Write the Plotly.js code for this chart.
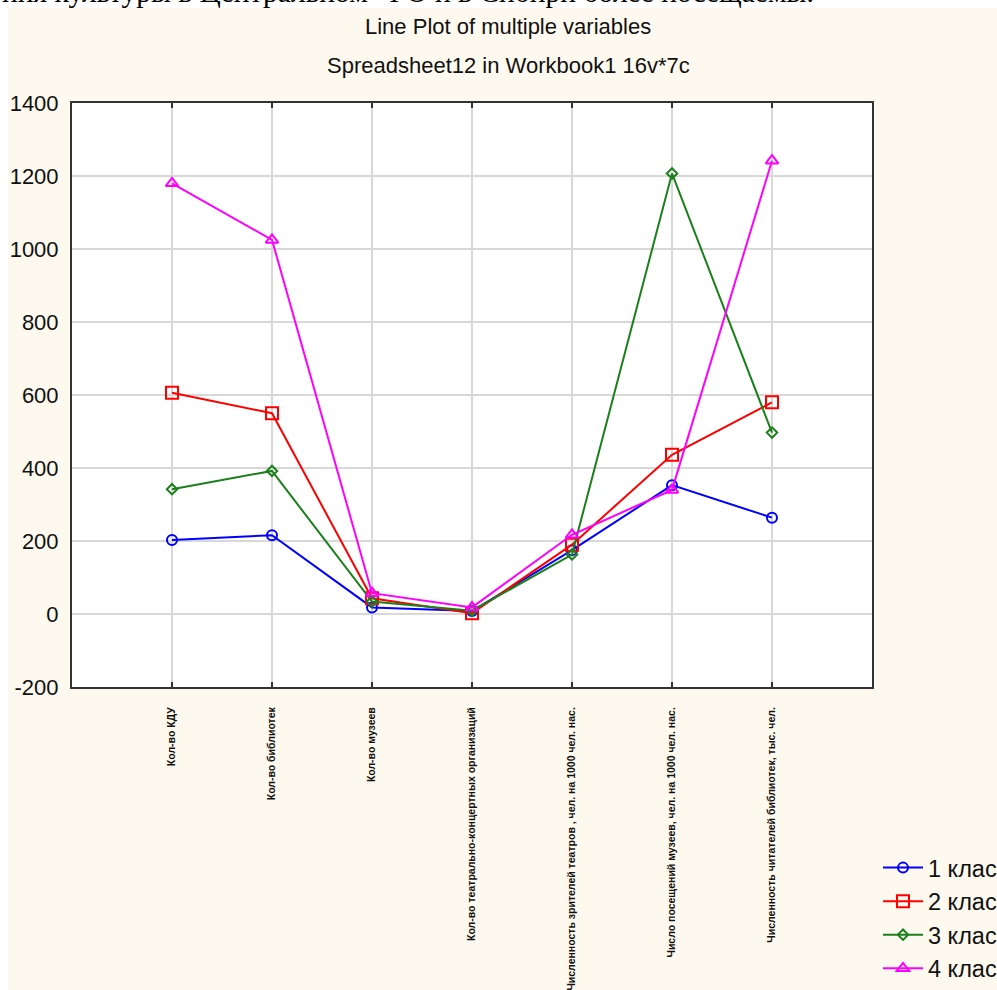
<!DOCTYPE html>
<html>
<head>
<meta charset="utf-8">
<script src="https://cdn.plot.ly/plotly-3.0.1.min.js"></script>
<style>html,body{margin:0;padding:0;background:#fdf9ee;}#chart{width:997px;height:990px;}</style>
</head>
<body>
<div id="chart"></div>
<script>
const categories = [
  "Кол-во КДУ",
  "Кол-во библиотек",
  "Кол-во музеев",
  "Кол-во театрально-концертных организаций",
  "Численность зрителей театров , чел. на 1000 чел. нас.",
  "Число посещений музеев, чел. на 1000 чел. нас.",
  "Численность читателей библиотек, тыс. чел."
];
const seriesNames = ["1 класс", "2 класс", "3 класс", "4 класс"];
const class1 = [203, 216, 18, 8, 175, 353, 264];
const class2 = [606, 550, 43, 2, 190, 436, 580];
const class3 = [342, 392, 34, 9, 163, 1207, 497];
const class4 = [1180, 1025, 57, 18, 217, 340, 1242];
const yTicks = [-200, 0, 200, 400, 600, 800, 1000, 1200, 1400];
const yTickText = ["-200", "0", "200", "400", "600", "800", "1000", "1200", "1400"];

const sans = '"Liberation Sans", Arial, sans-serif';
const colors = ["#0000ff", "#ff0000", "#1a801a", "#ff00ff"];
const symbols = ["circle-open", "square-open", "diamond-open", "triangle-up-open"];
const sizes = [10, 12, 8, 11];
const all = [class1, class2, class3, class4];
const xIdx = categories.map((c, i) => i);

const traces = all.map((vals, k) => ({
  type: 'scatter', mode: 'lines+markers',
  x: xIdx, y: vals, name: seriesNames[k],
  line: {color: colors[k], width: 2},
  marker: {symbol: symbols[k], size: sizes[k], color: colors[k], line: {color: colors[k], width: 2}}
}));

const layout = {
  width: 997, height: 990,
  paper_bgcolor: '#fdf9ee', plot_bgcolor: '#ffffff',
  margin: {l: 72, r: 125, t: 103, b: 303, autoexpand: false},
  showlegend: true,
  legend: {
    x: 1.0075, xanchor: 'left', y: -0.272, yanchor: 'top',
    bgcolor: 'rgba(0,0,0,0)',
    font: {family: sans, size: 23.5, color: '#111'},
    itemwidth: 40
  },
  xaxis: {
    range: [-1, 7], tickmode: 'array', tickvals: xIdx, ticktext: categories,
    tickangle: -90, tickfont: {family: 'Arial, "Liberation Sans", sans-serif', size: 10.5, color: '#111', weight: 'bold'},
    showgrid: true, gridcolor: '#d8d8d8', gridwidth: 1.8,
    showline: true, linecolor: '#333', linewidth: 2, mirror: 'ticks',
    ticks: 'inside', ticklen: 5, tickcolor: '#333', tickwidth: 2,
    ticklabelstandoff: 14, zeroline: false, fixedrange: true, automargin: false
  },
  yaxis: {
    range: [-200, 1400], tickmode: 'array', tickvals: yTicks, ticktext: yTickText,
    tickfont: {family: sans, size: 22, color: '#111'},
    showgrid: true, gridcolor: '#d8d8d8', gridwidth: 1.8,
    showline: true, linecolor: '#333', linewidth: 2, mirror: true,
    ticks: '', zeroline: false, ticklabelstandoff: 7, fixedrange: true, automargin: false
  },
  shapes: [
    {type: 'rect', xref: 'paper', yref: 'paper', x0: -0.2, x1: 1.2, y0: 1.1627, y1: 1.2, fillcolor: '#ffffff', line: {width: 0}, layer: 'below'},
    {type: 'rect', xref: 'paper', yref: 'paper', x0: -0.2, x1: -0.08, y0: -0.6, y1: 1.2, fillcolor: '#ffffff', line: {width: 0}, layer: 'below'}
  ],
  annotations: [
    {text: 'Line Plot of multiple variables', xref: 'paper', yref: 'paper', x: 0.545, y: 1.1305, xanchor: 'center', yanchor: 'middle', showarrow: false, font: {family: sans, size: 22, color: '#111'}},
    {text: 'Spreadsheet12 in Workbook1 16v*7c', xref: 'paper', yref: 'paper', x: 0.545, y: 1.0635, xanchor: 'center', yanchor: 'middle', showarrow: false, font: {family: sans, size: 22, color: '#111'}},
    {text: 'ния культуры в Центральном  ФО и в Сибири более посещаемы.', xref: 'paper', yref: 'paper', x: -0.09, y: 1.1595, xanchor: 'left', yanchor: 'bottom', showarrow: false, font: {family: '"Liberation Serif", "Times New Roman", serif', size: 29.5, color: '#000'}}
  ]
};

Plotly.newPlot('chart', traces, layout, {displayModeBar: false, staticPlot: true});
</script>
</body>
</html>
